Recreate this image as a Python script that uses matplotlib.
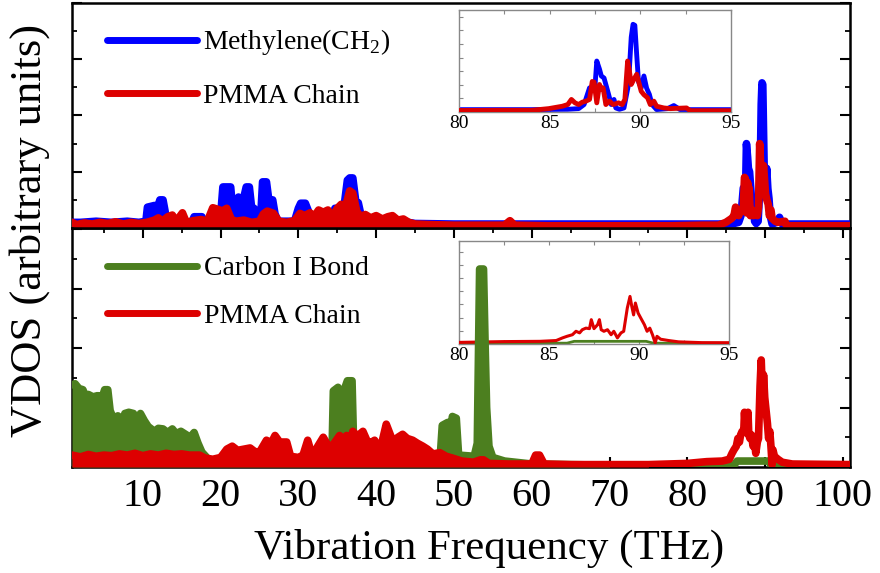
import numpy as np
import matplotlib
matplotlib.use('Agg')
import matplotlib.pyplot as plt
from matplotlib.ticker import MultipleLocator

plt.rcParams['font.family'] = 'Liberation Serif'
plt.rcParams['mathtext.fontset'] = 'custom'
plt.rcParams['mathtext.rm'] = 'Liberation Serif'

BLUE = '#0000ff'
RED = '#dd0000'
GREEN = '#4c7f1f'

# --- upper panel: methylene vs whole chain ---
ch2_freq = [0.9, 2.0, 4.0, 6.0, 8.0, 9.5, 10.4, 10.6, 11.5, 11.9,
            12.2, 12.6, 13.0, 13.4, 14.5, 16.3, 16.6, 17.6, 17.9, 19.5,
            20.0, 20.3, 21.3, 21.6, 21.9, 22.3, 22.6, 23.0, 23.3, 23.7,
            24.0, 24.3, 24.8, 25.2, 25.4, 25.9, 26.2, 26.7, 27.0, 27.4,
            29.5, 30.0, 30.3, 30.9, 31.3, 31.8, 34.3, 34.7, 35.3, 35.8,
            36.3, 36.6, 37.0, 37.4, 37.7, 38.1, 39.0, 42.0, 45.0, 50.0,
            55.0, 60.0, 70.0, 80.0, 84.0, 86.0, 86.6, 86.9, 87.2, 87.5,
            87.6, 87.75, 87.85, 88.0, 88.2, 88.4, 88.55, 88.65, 88.85, 89.1,
            89.35, 89.5, 89.6, 89.7, 89.8, 89.9, 90.05, 90.2, 90.35, 90.5,
            90.65, 90.9, 91.5, 91.85, 92.2, 93.0, 95.0, 100.9]
ch2_vdos = [0.10, 0.10, 0.12, 0.10, 0.12, 0.10, 0.12, 0.37, 0.40, 0.37,
            0.50, 0.50, 0.20, 0.12, 0.10, 0.10, 0.20, 0.20, 0.10, 0.12,
            0.20, 0.73, 0.73, 0.25, 0.20, 0.55, 0.50, 0.55, 0.73, 0.73,
            0.35, 0.35, 0.20, 0.30, 0.82, 0.82, 0.50, 0.50, 0.25, 0.12,
            0.12, 0.35, 0.44, 0.44, 0.30, 0.12, 0.12, 0.35, 0.35, 0.30,
            0.85, 0.89, 0.89, 0.45, 0.45, 0.20, 0.15, 0.15, 0.08, 0.07,
            0.07, 0.07, 0.07, 0.07, 0.07, 0.08, 0.10, 0.22, 0.71, 0.75,
            1.50, 1.26, 1.06, 1.00, 0.62, 0.22, 0.37, 0.12, 0.08, 0.12,
            0.81, 2.20, 2.58, 2.55, 1.70, 0.90, 0.71, 1.06, 0.70, 0.52,
            0.22, 0.07, 0.10, 0.19, 0.07, 0.07, 0.07, 0.07]

pmma_top_freq = [0.9, 1.5, 2.5, 3.5, 4.5, 5.5, 6.5, 7.5, 8.5, 9.5,
                 10.5, 11.5, 12.0, 12.5, 13.2, 13.8, 14.3, 15.1, 15.6, 16.5,
                 17.5, 18.3, 19.0, 19.7, 20.2, 20.8, 21.4, 22.0, 23.0, 24.0,
                 25.0, 25.5, 26.0, 26.8, 27.5, 28.5, 29.5, 30.2, 30.8, 31.5,
                 32.0, 32.6, 33.2, 33.8, 34.4, 35.0, 35.5, 36.1, 36.6, 37.0,
                 37.5, 38.0, 38.6, 39.3, 40.0, 40.8, 41.5, 42.1, 42.8, 43.5,
                 44.2, 45.0, 47.0, 50.0, 53.0, 56.5, 57.2, 57.8, 62.0, 70.0,
                 78.0, 82.0, 84.0, 84.95, 85.7, 86.0, 86.2, 86.4, 86.6, 86.8,
                 87.0, 87.2, 87.35, 87.45, 87.6, 87.75, 87.85, 87.95, 88.1, 88.3,
                 88.5, 88.8, 89.0, 89.15, 89.3, 89.4, 89.5, 89.65, 89.8, 89.95,
                 90.05, 90.2, 90.4, 90.55, 90.75, 90.9, 91.3, 91.65, 92.55, 92.75,
                 95.0, 100.9]
pmma_top_vdos = [0.10, 0.06, 0.09, 0.07, 0.10, 0.08, 0.11, 0.07, 0.10, 0.08,
                 0.10, 0.14, 0.18, 0.12, 0.20, 0.23, 0.12, 0.27, 0.10, 0.13,
                 0.15, 0.12, 0.36, 0.33, 0.30, 0.35, 0.15, 0.12, 0.14, 0.10,
                 0.12, 0.25, 0.30, 0.26, 0.12, 0.10, 0.13, 0.26, 0.22, 0.27,
                 0.20, 0.32, 0.28, 0.32, 0.20, 0.35, 0.42, 0.40, 0.66, 0.62,
                 0.30, 0.20, 0.24, 0.18, 0.22, 0.16, 0.20, 0.22, 0.14, 0.16,
                 0.10, 0.07, 0.06, 0.05, 0.05, 0.05, 0.13, 0.05, 0.04, 0.04,
                 0.04, 0.05, 0.05, 0.10, 0.17, 0.22, 0.37, 0.27, 0.22, 0.29,
                 0.32, 0.37, 0.90, 0.88, 0.27, 0.81, 0.66, 0.71, 0.22, 0.32,
                 0.22, 0.27, 0.22, 0.37, 1.50, 1.21, 0.81, 0.96, 1.11, 0.81,
                 0.61, 0.51, 0.42, 0.22, 0.32, 0.17, 0.12, 0.10, 0.12, 0.04,
                 0.04, 0.04]

# --- lower panel: carbon-iodine bond vs whole chain ---
ci_freq = [0.9, 1.3, 1.8, 2.3, 2.6, 3.0, 3.6, 4.2, 4.8, 5.1,
           5.5, 5.8, 6.2, 6.8, 7.3, 7.7, 8.2, 8.8, 9.2, 9.7,
           10.2, 10.7, 11.5, 12.0, 12.6, 13.2, 13.8, 14.3, 14.9, 15.5,
           16.1, 16.6, 17.1, 17.6, 18.3, 19.3, 21.0, 25.0, 30.0, 34.0,
           34.3, 34.5, 35.1, 35.5, 35.9, 36.3, 36.9, 37.1, 37.6, 42.0,
           48.2, 48.5, 49.2, 49.5, 49.8, 50.3, 50.6, 52.6, 53.0, 53.3,
           53.8, 54.0, 54.2, 54.5, 55.0, 56.5, 60.0, 70.0, 86.0, 86.4,
           90.4, 90.8, 100.9]
ci_vdos = [1.38, 1.40, 1.32, 1.30, 1.20, 1.22, 1.18, 1.20, 1.18, 1.30,
           1.30, 0.95, 0.82, 0.86, 0.70, 0.90, 0.92, 0.90, 0.72, 0.90,
           0.78, 0.68, 0.60, 0.65, 0.64, 0.58, 0.64, 0.56, 0.60, 0.55,
           0.50, 0.58, 0.40, 0.25, 0.15, 0.08, 0.06, 0.05, 0.05, 0.06,
           0.10, 1.28, 1.34, 1.05, 1.30, 1.45, 1.45, 0.40, 0.10, 0.08,
           0.10, 0.70, 0.75, 0.55, 0.85, 0.82, 0.20, 0.18, 0.40, 3.33,
           3.33, 2.10, 1.00, 0.35, 0.16, 0.10, 0.05, 0.03, 0.03, 0.10,
           0.10, 0.03, 0.02]

pmma_bot_freq = [0.9, 2.0, 3.0, 4.0, 5.0, 6.0, 7.0, 8.0, 9.0, 10.0,
                 11.0, 12.0, 13.0, 14.0, 15.0, 16.0, 17.3, 18.0, 19.0, 20.0,
                 20.8, 21.5, 22.2, 23.0, 23.8, 24.4, 25.0, 25.9, 26.5, 27.0,
                 27.6, 28.5, 29.0, 30.0, 30.6, 31.2, 31.8, 32.5, 33.2, 34.0,
                 34.6, 35.3, 35.8, 36.2, 36.6, 37.0, 37.6, 38.3, 38.8, 39.2,
                 39.8, 40.5, 41.3, 41.8, 42.2, 42.8, 43.4, 44.0, 44.7, 45.3,
                 46.0, 46.6, 47.3, 48.2, 49.0, 49.8, 51.0, 52.5, 53.4, 53.8,
                 54.5, 57.0, 60.0, 60.5, 61.0, 61.6, 65.0, 75.0, 80.0, 82.5,
                 84.5, 85.4, 85.75, 86.0, 86.3, 86.5, 86.7, 86.85, 87.05, 87.25,
                 87.35, 87.5, 87.7, 87.8, 87.9, 88.05, 88.25, 88.45, 88.6, 88.8,
                 89.0, 89.15, 89.35, 89.5, 89.6, 89.7, 89.8, 89.95, 90.1, 90.3,
                 90.45, 90.6, 90.75, 90.9, 91.0, 91.2, 91.65, 92.2, 93.5, 100.9]
pmma_bot_vdos = [0.20, 0.17, 0.21, 0.18, 0.20, 0.19, 0.22, 0.20, 0.23, 0.19,
                 0.22, 0.20, 0.23, 0.21, 0.22, 0.20, 0.20, 0.15, 0.13, 0.16,
                 0.30, 0.35, 0.28, 0.30, 0.32, 0.26, 0.25, 0.45, 0.40, 0.53,
                 0.42, 0.42, 0.18, 0.16, 0.20, 0.45, 0.18, 0.35, 0.50, 0.32,
                 0.40, 0.53, 0.45, 0.53, 0.30, 0.60, 0.52, 0.60, 0.45, 0.40,
                 0.45, 0.28, 0.72, 0.55, 0.42, 0.50, 0.55, 0.48, 0.45, 0.40,
                 0.35, 0.30, 0.22, 0.24, 0.18, 0.15, 0.10, 0.08, 0.12, 0.12,
                 0.06, 0.05, 0.05, 0.20, 0.20, 0.05, 0.04, 0.04, 0.06, 0.09,
                 0.10, 0.13, 0.23, 0.29, 0.35, 0.48, 0.42, 0.54, 0.60, 0.58,
                 0.92, 0.58, 0.73, 0.92, 0.54, 0.48, 0.54, 0.35, 0.48, 0.23,
                 0.42, 0.48, 1.36, 1.80, 1.42, 1.10, 1.55, 1.17, 0.98, 0.73,
                 0.48, 0.60, 0.35, 0.04, 0.29, 0.18, 0.13, 0.08, 0.05, 0.04]

xticks = [10, 20, 30, 40, 50, 60, 70, 80, 90, 100]
inset_ticks = [80, 85, 90, 95]


def draw_dos(ax, freq, vdos, color, lw=5.5, fill=True, z=3):
    freq = np.asarray(freq)
    vdos = np.asarray(vdos)
    if fill:
        # dense low-frequency modes show up as solid bands
        ax.fill_between(freq, 0, vdos, where=freq < 80, color=color, lw=0, zorder=z)
    ax.plot(freq, vdos, color=color, lw=lw, solid_capstyle='round',
            solid_joinstyle='round', zorder=z)


def style_main(ax, ymax):
    ax.set_xlim(0.9, 100.9)
    ax.set_ylim(0, ymax)
    ax.set_facecolor('none')
    ax.set_zorder(2)
    ax.set_xticks(xticks)
    ax.xaxis.set_minor_locator(MultipleLocator(5))
    ax.yaxis.set_major_locator(MultipleLocator(1))
    ax.yaxis.set_minor_locator(MultipleLocator(0.5))
    ax.tick_params(which='both', direction='in', left=True, right=True,
                   labelleft=False, colors='black')
    ax.tick_params(which='major', length=7, width=1.5)
    ax.tick_params(which='minor', length=3.5, width=1.3)
    for s in ax.spines.values():
        s.set_linewidth(1.8)


def style_inset(ax, ymax, ystep):
    ax.set_xlim(80, 95)
    ax.set_ylim(0, ymax)
    ax.set_zorder(1)
    ax.set_xticks(inset_ticks)
    ax.xaxis.set_minor_locator(MultipleLocator(2.5))
    ax.yaxis.set_major_locator(MultipleLocator(ystep))
    ax.tick_params(which='both', direction='in', top=True, bottom=True,
                   left=True, right=False, labelleft=False, color='#888888',
                   length=3, width=0.8, labelsize=14, pad=2)
    for s in ax.spines.values():
        s.set_color('#888888')
        s.set_linewidth(1.0)


fig = plt.figure(figsize=(8.8, 5.73), dpi=100)
fig.patch.set_facecolor('white')

ax_top = fig.add_axes([0.0818, 0.6021, 0.884, 0.3927])
ax_bot = fig.add_axes([0.0818, 0.185, 0.884, 0.4171])
in_top = fig.add_axes([0.5216, 0.8045, 0.309, 0.178])
in_bot = fig.add_axes([0.5216, 0.3997, 0.3068, 0.1798])

# upper panel
draw_dos(ax_top, ch2_freq, ch2_vdos, BLUE, z=3)
draw_dos(ax_top, pmma_top_freq, pmma_top_vdos, RED, z=4)
style_main(ax_top, 4.0)
ax_top.tick_params(which='both', bottom=False, labelbottom=False)
ax_top.legend([plt.Line2D([], [], color=BLUE, lw=5, solid_capstyle='round'),
               plt.Line2D([], [], color=RED, lw=5, solid_capstyle='round')],
              ['Methylene(CH$_\\mathrm{2}$)', 'PMMA Chain'],
              loc='upper left', bbox_to_anchor=(0.045, 0.892), frameon=False,
              fontsize=20, handlelength=3.25, handletextpad=0.2,
              labelspacing=0.93, borderpad=0, borderaxespad=0)

# lower panel
draw_dos(ax_bot, ci_freq, ci_vdos, GREEN, z=3)
draw_dos(ax_bot, pmma_bot_freq, pmma_bot_vdos, RED, z=4)
style_main(ax_bot, 4.02)
ax_bot.tick_params(which='both', top=True, bottom=True, labelsize=29, pad=8)
ax_bot.legend([plt.Line2D([], [], color=GREEN, lw=5, solid_capstyle='round'),
               plt.Line2D([], [], color=RED, lw=5, solid_capstyle='round')],
              ['Carbon I Bond', 'PMMA Chain'],
              loc='upper left', bbox_to_anchor=(0.045, 0.883), frameon=False,
              fontsize=20, handlelength=3.25, handletextpad=0.25,
              labelspacing=0.8, borderpad=0, borderaxespad=0)

# insets: 80-95 THz region
draw_dos(in_top, ch2_freq, ch2_vdos, BLUE, lw=3.5, fill=False, z=2)
draw_dos(in_top, pmma_top_freq, pmma_top_vdos, RED, lw=3.5, fill=False, z=3)
style_inset(in_top, 3.0, 0.4)

draw_dos(in_bot, ci_freq, ci_vdos, GREEN, lw=2.0, fill=False, z=2)
draw_dos(in_bot, pmma_bot_freq, pmma_bot_vdos, RED, lw=2.2, fill=False, z=3)
style_inset(in_bot, 3.9, 0.5)

fig.text(0.556, 0.042, 'Vibration Frequency (THz)', fontsize=31,
         ha='center', va='center')
fig.text(0.034, 0.597, 'VDOS (arbitrary units)', fontsize=32,
         rotation=90, ha='center', va='center')

fig.savefig('out.png', dpi=100)
